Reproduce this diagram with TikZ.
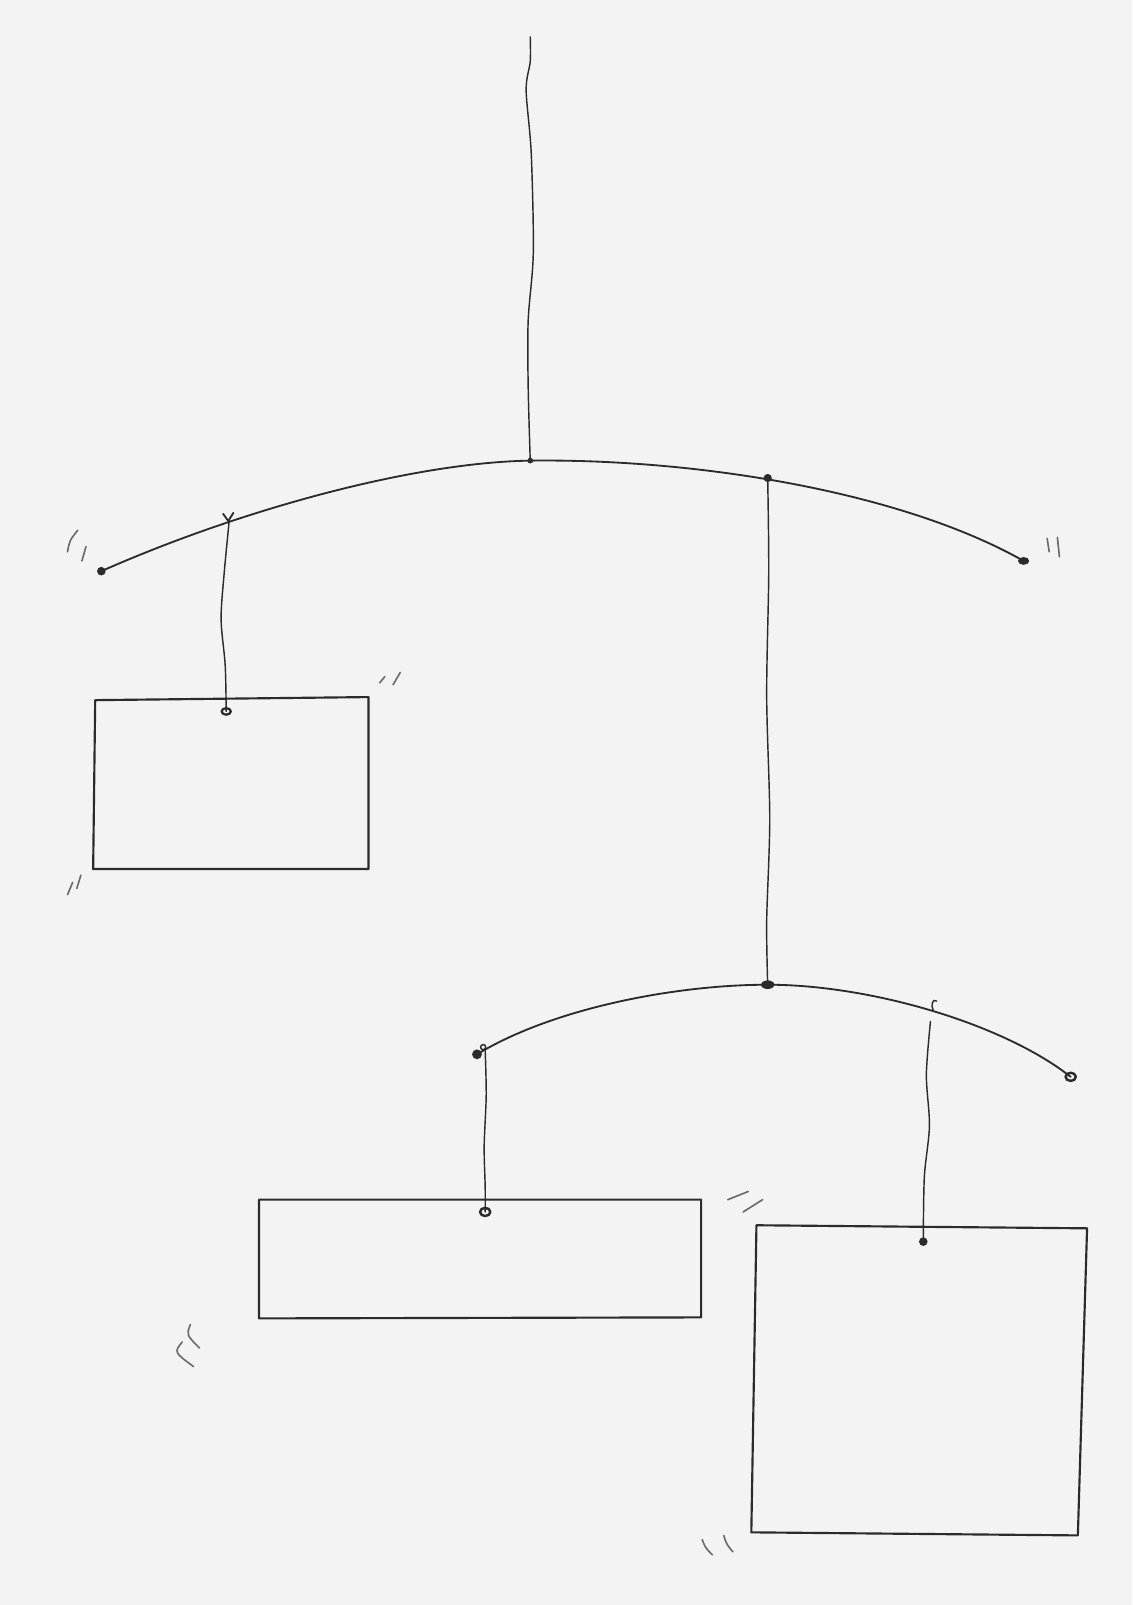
\documentclass[tikz,border=0pt]{standalone}
\begin{document}
\begin{tikzpicture}[x=1pt,y=-1pt,
  ink/.style={draw=inkc,line width=1.8pt,line cap=round,line join=round},
  boxink/.style={draw=inkc,line width=2.1pt,line cap=round,line join=round},
  thinink/.style={draw=inkc,line width=1.4pt,line cap=round},
  swish/.style={draw=inkc!70,line width=1.6pt,line cap=round},
  dotk/.style={fill=inkc,draw=none}]
\definecolor{inkc}{HTML}{2B2B2B}
\definecolor{paper}{HTML}{F3F3F3}
\fill[paper] (0,0) rectangle (1106,1568);
\useasboundingbox (0,0) rectangle (1106,1568);
% key points
\coordinate (top) at (518,36);
\coordinate (hub) at (518,450);
\coordinate (lend) at (99,558);
\coordinate (lhook) at (224,508);
\coordinate (rhook) at (750,467);
\coordinate (rend) at (1000,548);
\coordinate (hub2) at (750,962);
\coordinate (l2end) at (466,1030);
\coordinate (l2hook) at (474,1026);
\coordinate (r2hook) at (909,998);
\coordinate (r2end) at (1046,1052);
\coordinate (h1) at (221,695);
\coordinate (h2) at (474,1184);
\coordinate (h3) at (902,1213);
% main hanging string
\draw[thinink] plot[smooth] coordinates {(top) (518,60) (514,88) (519,150) (521,247) (516,313) (516,378) (hub)};
% top arc
\draw[ink] (lend) .. controls (230,500) and (400,452) .. (hub)
                  .. controls (680,448) and (880,480) .. (rend);
\fill[dotk] (lend) circle (4.2);
\fill[dotk] (rend) ellipse (5.5 and 3.8);
\fill[dotk] (hub) circle (2.8);
\fill[dotk] (rhook) circle (4);
\draw[ink] (218,502) -- (223,509) -- (228,501);
% left string and box
\draw[thinink] plot[smooth] coordinates {(lhook) (219,560) (216,605) (220,650) (h1)};
\draw[boxink] (93,684) -- (360,681) -- (360,849) -- (91,849) -- cycle;
\draw[ink,line width=2.2pt] (h1) ellipse (4.5 and 3.2);
% right long string
\draw[thinink] plot[smooth] coordinates {(rhook) (751,560) (749,680) (752,800) (749,900) (hub2)};
% lower arc
\draw[ink] (l2end) .. controls (540,985) and (660,962) .. (hub2)
                   .. controls (850,962) and (980,1000) .. (r2end);
\fill[dotk] (l2end) circle (4.8);
\fill[dotk] (hub2) ellipse (6.5 and 4.2);
\draw[ink,line width=2.4pt] (r2end) ellipse (5 and 4);
\draw[thinink] (472,1023) circle (2.5);
\draw[thinink] (912,988) .. controls (909,982) and (911,975) .. (915,978);
% lower-left string and box
\draw[thinink] plot[smooth] coordinates {(l2hook) (475,1070) (473,1120) (474,1160) (h2)};
\draw[boxink] (253,1172) -- (685,1172) -- (685,1287) -- (253,1288) -- cycle;
\draw[ink,line width=2.4pt] (h2) ellipse (5 and 4);
% lower-right string and box
\draw[thinink] plot[smooth] coordinates {(r2hook) (905,1050) (908,1100) (903,1150) (h3)};
\draw[boxink] (739,1197) -- (1062,1200) -- (1053,1500) -- (734,1497) -- cycle;
\fill[dotk] (h3) circle (4.2);
% motion marks
\draw[swish] (66,539) .. controls (68,528) .. (76,518);
\draw[swish] (80,548) -- (84,534);
\draw[swish] (1023,526) -- (1025,539);
\draw[swish] (1033,525) -- (1035,544);
\draw[swish] (371,667) -- (376,661);
\draw[swish] (384,669) -- (391,657);
\draw[swish] (66,874) -- (71,862);
\draw[swish] (75,868) -- (79,855);
\draw[swish] (711,1172) -- (731,1164);
\draw[swish] (726,1184) -- (745,1172);
\draw[swish] (186,1294) .. controls (182,1304) .. (195,1317);
\draw[swish] (178,1311) .. controls (170,1321) .. (189,1335);
\draw[swish] (686,1504) .. controls (689,1512) .. (696,1519);
\draw[swish] (707,1500) .. controls (710,1509) .. (716,1516);
\end{tikzpicture}
\end{document}
